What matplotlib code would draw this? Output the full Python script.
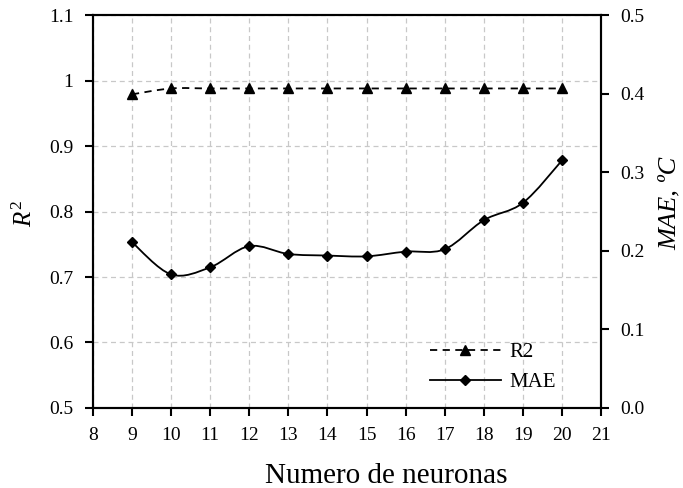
import numpy as np
import matplotlib.pyplot as plt
from matplotlib.path import Path
from matplotlib.patches import PathPatch

plt.rcParams['font.family'] = ['Liberation Serif', 'DejaVu Serif']
plt.rcParams['mathtext.fontset'] = 'custom'
plt.rcParams['mathtext.it'] = 'Liberation Serif:italic'
plt.rcParams['mathtext.rm'] = 'Liberation Serif'

# neuronas en la capa oculta
neuronas = [9, 10, 11, 12, 13, 14, 15, 16, 17, 18, 19, 20]
r2 = [0.979, 0.988, 0.988, 0.988, 0.988, 0.988, 0.988, 0.988, 0.988, 0.988, 0.988, 0.988]
mae = [0.211, 0.170, 0.179, 0.206, 0.196, 0.194, 0.193, 0.199, 0.202, 0.239, 0.261, 0.315]

x_ticks = list(range(8, 22))
r2_ticks = [0.5, 0.6, 0.7, 0.8, 0.9, 1.0, 1.1]
r2_labels = ['0.5', '0.6', '0.7', '0.8', '0.9', '1', '1.1']
mae_ticks = [0.0, 0.1, 0.2, 0.3, 0.4, 0.5]


def smooth_path(xs, ys):
    # curva suavizada tipo Excel (Bezier cubica, tension 1/6)
    pts = list(zip(xs, ys))
    verts = [pts[0]]
    codes = [Path.MOVETO]
    n = len(pts)
    for i in range(n - 1):
        p0 = pts[i - 1] if i > 0 else pts[i]
        p1 = pts[i]
        p2 = pts[i + 1]
        p3 = pts[i + 2] if i + 2 < n else pts[i + 1]
        c1 = (p1[0] + (p2[0] - p0[0]) / 6, p1[1] + (p2[1] - p0[1]) / 6)
        c2 = (p2[0] - (p3[0] - p1[0]) / 6, p2[1] - (p3[1] - p1[1]) / 6)
        verts += [c1, c2, p2]
        codes += [Path.CURVE4] * 3
    return Path(verts, codes)


fig = plt.figure(figsize=(6.83, 4.88), dpi=100)
ax = fig.add_axes([0.136, 0.164, 0.744, 0.805])
ax2 = ax.twinx()

ax.add_patch(PathPatch(smooth_path(neuronas, r2), facecolor='none',
                       edgecolor='black', lw=1.3, ls=(0, (4, 3)), zorder=3))
ax.plot(neuronas, r2, ls='none', marker='^', ms=7, color='black', zorder=4)

ax2.add_patch(PathPatch(smooth_path(neuronas, mae), facecolor='none',
                        edgecolor='black', lw=1.3, zorder=3))
ax2.plot(neuronas, mae, ls='none', marker='D', ms=5, color='black', zorder=4)

ax.set_xlim(8, 21)
ax.set_ylim(0.5, 1.1)
ax2.set_ylim(0.0, 0.5)
ax.set_xticks(x_ticks)
ax.set_yticks(r2_ticks)
ax.set_yticklabels(r2_labels)
ax2.set_yticks(mae_ticks)
ax2.set_yticklabels(['%.1f' % v for v in mae_ticks])

ax.grid(True, color='#c8c8c8', ls=(0, (4, 3)), lw=0.9)
ax.set_axisbelow(True)

for a in (ax, ax2):
    for s in a.spines.values():
        s.set_linewidth(1.5)
    a.tick_params(direction='out', length=6, width=1.5, labelsize=14, pad=8)

ax.set_xlabel('Numero de neuronas', fontsize=21, va='baseline')
ax.xaxis.set_label_coords(0.577, -0.191)
ax.set_ylabel('$R^2$', fontsize=18, va='center', ha='center')
ax.yaxis.set_label_coords(-0.134, 0.496)
ax2.set_ylabel('MAE, ºC', fontsize=19, style='italic', va='center', ha='center')
ax2.yaxis.set_label_coords(1.136, 0.522)

ax.plot([], [], color='black', ls=(0, (4, 3)), lw=1.3, marker='^', ms=7, label='R2')
ax.plot([], [], color='black', lw=1.3, marker='D', ms=5, label='MAE')
ax.legend(loc='center left', bbox_to_anchor=(0.663, 0.104), frameon=False,
          fontsize=15, handlelength=3.4, handletextpad=0.4, labelspacing=0.5,
          borderpad=0, borderaxespad=0)

fig.savefig('out.png', dpi=100)
